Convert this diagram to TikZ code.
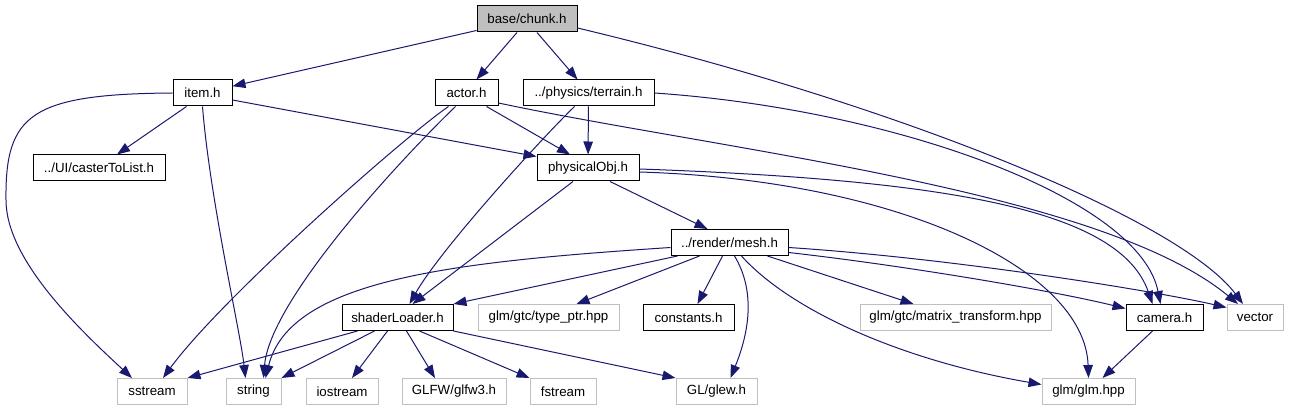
\documentclass[tikz,border=0pt]{standalone}
\usepackage{fontspec}
\setmainfont{Liberation Sans}
\usetikzlibrary{arrows.meta,positioning}
\definecolor{edgeblue}{RGB}{25,25,112}
\definecolor{sysgray} {RGB}{191,191,191}
\definecolor{rootgray}{RGB}{191,191,191}

\begin{document}
\begin{tikzpicture}[
  x=1pt, y=-1pt,
  font=\fontsize{13.3}{15}\selectfont,
  every node/.style={align=center},
  hdrbox/.style={rectangle, draw=black, fill=white, line width=1pt,
    minimum height=26, inner sep=0pt},
  sysbox/.style={hdrbox, draw=sysgray},
  rootbox/.style={hdrbox, fill=rootgray},
  dep/.style={-{Triangle[length=13pt,width=9.5pt]}, line width=1pt, color=edgeblue},
]
\fill[white] (0,0) rectangle (1289,411);
\useasboundingbox (0,0) rectangle (1289,411);

% Headers
\node[rootbox, minimum width=100] (chunk)     at (527,19)      {base/chunk.h};
\node[hdrbox,  minimum width=59]  (item)      at (202.5,93)    {item.h};
\node[hdrbox,  minimum width=63]  (actor)     at (466.5,93)    {actor.h};
\node[hdrbox,  minimum width=131] (terrain)   at (588.5,93)    {../physics/terrain.h};
\node[hdrbox,  minimum width=132] (caster)    at (99,168)      {../UI/casterToList.h};
\node[hdrbox,  minimum width=102] (physobj)   at (588,168)     {physicalObj.h};
\node[hdrbox,  minimum width=117] (mesh)      at (729.5,242.5) {../render/mesh.h};
\node[hdrbox,  minimum width=111] (shader)    at (397.5,317.5) {shaderLoader.h};
\node[sysbox,  minimum width=141] (typeptr)   at (548.5,317.5) {glm/gtc/type\_ptr.hpp};
\node[hdrbox,  minimum width=91]  (constants) at (688.5,317.5) {constants.h};
\node[sysbox,  minimum width=191] (matrix)    at (955.5,317.5) {glm/gtc/matrix\_transform.hpp};
\node[hdrbox,  minimum width=77]  (camera)    at (1164.5,317.5){camera.h};
\node[sysbox,  minimum width=56]  (vector)    at (1255,317.5)  {vector};

% System headers
\node[sysbox, minimum width=70]  (sstream)  at (152,391.5)    {sstream};
\node[sysbox, minimum width=55]  (string)   at (253.5,391.5)  {string};
\node[sysbox, minimum width=72]  (iostream) at (342,391.5)    {iostream};
\node[sysbox, minimum width=104] (glfw)     at (454,391.5)    {GLFW/glfw3.h};
\node[sysbox, minimum width=66]  (fstream)  at (563,391.5)    {fstream};
\node[sysbox, minimum width=81]  (glew)     at (716.5,391.5)  {GL/glew.h};
\node[sysbox, minimum width=93]  (glm)      at (1088.5,391.5) {glm/glm.hpp};

% base/chunk.h
\draw[dep] (chunk) -- (item);
\draw[dep] ([xshift=-10]chunk.south) -- ([xshift=10]actor.north);
\draw[dep] ([xshift=10]chunk.south) -- ([xshift=-11]terrain.north);
\draw[dep] ([yshift=-9]chunk.east) .. controls (900,105) and (1180,220) .. ([xshift=-12]vector.north);

% item.h
\draw[dep] ([xshift=-16]item.south) -- ([xshift=18]caster.north);
\draw[dep] (item.west) .. controls (30,94) and (5,115) .. (6,200)
  .. controls (6,260) and (80,330) .. ([xshift=-20]sstream.north);
\draw[dep] (item.south) .. controls (210,200) and (240,330) .. ([xshift=-8]string.north);
\draw[dep] ([yshift=-7]item.east) -- ([yshift=-2]physobj.north west);

% actor.h
\draw[dep] ([xshift=20]actor.south) -- ([xshift=-18]physobj.north);
\draw[dep] ([xshift=-18]actor.south) .. controls (400,140) and (220,300) .. ([xshift=11]sstream.north);
\draw[dep] ([xshift=-11]actor.south) .. controls (400,160) and (270,300) .. ([xshift=10]string.north);
\draw[dep] ([yshift=-10]actor.east) .. controls (720,150) and (1100,190) .. ([xshift=-17]vector.north);

% ../physics/terrain.h
\draw[dep] (terrain) -- (physobj);
\draw[dep] ([xshift=-14]terrain.south) .. controls (540,140) and (440,250) .. ([xshift=12]shader.north);
\draw[dep] (terrain.east) .. controls (900,110) and (1140,200) .. ([xshift=-4]camera.north);

% physicalObj.h
\draw[dep] ([xshift=-15]physobj.south) -- ([xshift=15]shader.north);
\draw[dep] ([xshift=22]physobj.south) -- ([xshift=-22]mesh.north);
\draw[dep] ([yshift=-1]physobj.east) .. controls (950,180) and (1120,210) .. ([xshift=-12]camera.north);
\draw[dep] ([yshift=-4]physobj.east) .. controls (900,180) and (1085,270) .. (glm.north);

% ../render/mesh.h
\draw[dep] ([yshift=-5]mesh.west) .. controls (450,262) and (290,280) .. ([xshift=12]string.north);
\draw[dep] ([xshift=-52]mesh.south) -- (shader.north east);
\draw[dep] ([xshift=-30]mesh.south) -- ([xshift=28]typeptr.north);
\draw[dep] ([xshift=-7]mesh.south) -- ([xshift=9]constants.north);
\draw[dep] ([xshift=5]mesh.south) .. controls (755,290) and (750,330) .. ([xshift=14]glew.north);
\draw[dep] ([xshift=12]mesh.south) .. controls (790,310) and (900,360) .. ([yshift=7]glm.west);
\draw[dep] ([xshift=38]mesh.south) -- ([xshift=-42]matrix.north);
\draw[dep] ([yshift=-10]mesh.east) .. controls (900,265) and (1050,290) .. ([yshift=9]camera.west);
\draw[dep] ([yshift=-5]mesh.east) .. controls (950,258) and (1150,290) .. ([yshift=10]vector.west);

% shaderLoader.h
\draw[dep] ([xshift=-40]shader.south) -- (sstream.north east);
\draw[dep] ([xshift=-23]shader.south) -- (string.north east);
\draw[dep] ([xshift=-10]shader.south) -- ([xshift=10]iostream.north);
\draw[dep] ([xshift=9]shader.south) -- ([xshift=-19]glfw.north);
\draw[dep] ([xshift=22]shader.south) -- (fstream.north west);
\draw[dep] (shader.south east) -- (glew.north west);

% camera.h
\draw[dep] ([xshift=-12]camera.south) -- ([xshift=14]glm.north);
\end{tikzpicture}
\end{document}
